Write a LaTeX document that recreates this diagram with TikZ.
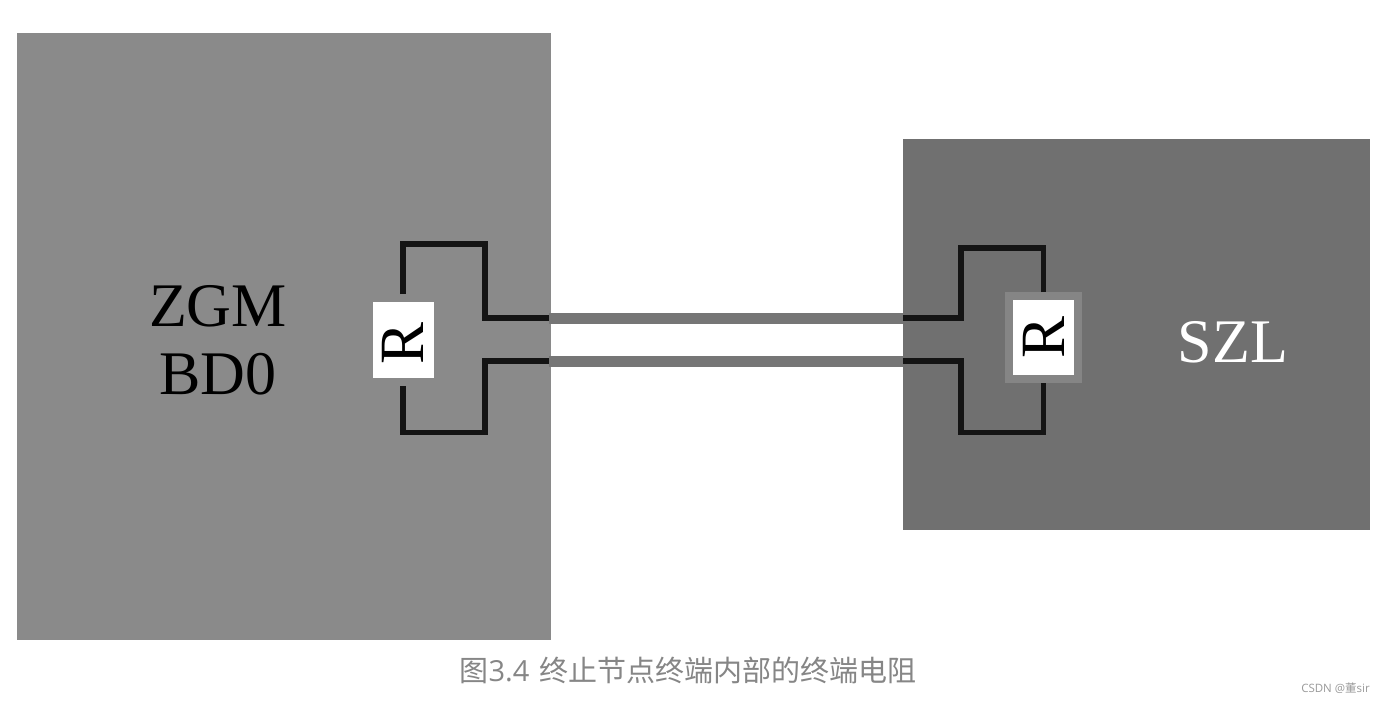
\documentclass[tikz,border=0pt]{standalone}
\usepackage{graphicx}
\usepackage{fontspec}
\setmainfont{Liberation Serif}
\newfontfamily\cjkfont{Noto Sans CJK SC}
\newfontfamily\capfont{Open Sans}
\definecolor{boxL}{HTML}{8A8A8A}
\definecolor{boxR}{HTML}{707070}
\definecolor{halo}{HTML}{858585}
\definecolor{bar}{HTML}{767676}
\definecolor{captext}{HTML}{868686}
\definecolor{marktext}{HTML}{9A9A9A}
\definecolor{wire}{HTML}{141414}
\tikzset{
  x=1pt,y=-1pt,
  panel/.style={inner sep=0,outer sep=0,minimum width=#1},
  res/.style={fill=white,line width=8pt,inner sep=0,minimum width=69pt,minimum height=#1,font=\fontsize{63}{63}\selectfont},
  wirepath/.style={draw=wire,line width=5.2pt,line join=miter},
  barpath/.style={draw=bar,line width=11pt},
  big/.style={font=\fontsize{#1}{#1}\selectfont,inner sep=0,align=center}
}
\begin{document}
\begin{tikzpicture}
\useasboundingbox (0,0) rectangle (1385,702);
\fill[white] (0,0) rectangle (1385,702);
\node[panel=534pt,minimum height=607pt,fill=boxL] (zgm) at (284,336.5) {};
\node[panel=467pt,minimum height=391pt,fill=boxR] (szl) at (1136.5,334.5) {};
% pin coordinates on the panel edges
\coordinate (l1) at (549,318);
\coordinate (l2) at (549,361);
\coordinate (r1) at (903,318);
\coordinate (r2) at (903,361);
\draw[barpath] (l1) -- (r1);
\draw[barpath] (l2) -- (r2);
\node[res=84pt,draw=boxL] (rl) at (403,340) {\rotatebox{90}{R\kern 6pt}};
\node[res=83pt,draw=halo] (rr) at (1043.5,337.5) {\rotatebox{90}{R}};
\draw[wirepath] (rl.north) -- (403,244) -- (485,244) -- (485,318) -- (l1);
\draw[wirepath] (rl.south) -- (403,432.5) -- (485,432.5) -- (485,361) -- (l2);
\draw[wirepath] (rr.north) -- (1043.5,248) -- (961,248) -- (961,318) -- (r1);
\draw[wirepath] (rr.south) -- (1043.5,432.5) -- (961,432.5) -- (961,361) -- (r2);
\node[big=62] (t1) at (218,340) {\fontsize{62}{62}\selectfont ZGM\\[6pt]BD0};
\node[big=62,text=white] (t2) at (1233,342) {SZL};
\node[inner sep=0,text=captext,font=\fontsize{29}{29}\selectfont] (cap) at (688,670) {\cjkfont 图\capfont 3.4\kern 10pt\cjkfont 终止节点终端内部的终端电阻};
\node[inner sep=0,text=marktext,font=\fontsize{11.5}{11.5}\selectfont,anchor=east] (mark) at (1370,688) {\capfont CSDN @\cjkfont 董\capfont sir};
\end{tikzpicture}
\end{document}
